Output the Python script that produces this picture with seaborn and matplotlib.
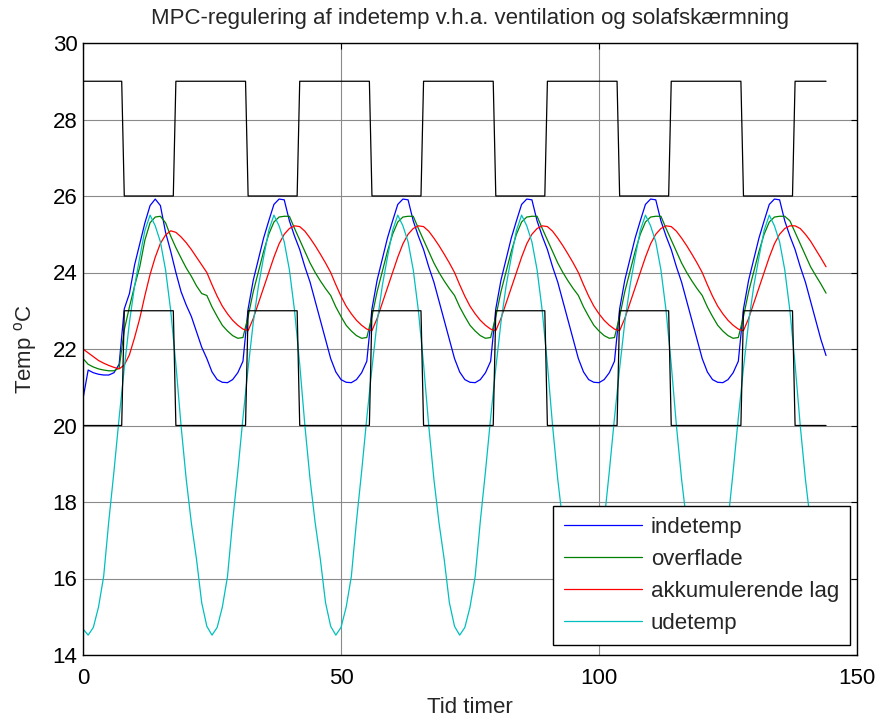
import matplotlib
matplotlib.use("Agg")
import matplotlib.pyplot as plt
import pandas as pd
import seaborn as sns

# Simulation time in hours (6 days, hourly samples)
timer = list(range(145))

# Indoor air temperature
indetemp = [
    20.70, 21.45, 21.38, 21.34, 21.32, 21.32, 21.38, 21.60, 23.05, 23.45, 24.20, 24.75,
    25.30, 25.75, 25.92, 25.75, 25.05, 24.55, 24.00, 23.50, 23.15, 22.85, 22.45, 22.05,
    21.75, 21.40, 21.20, 21.13, 21.12, 21.20, 21.38, 21.68, 23.05, 23.80, 24.35, 24.90,
    25.35, 25.78, 25.92, 25.90, 25.35, 24.95, 24.60, 24.15, 23.75, 23.25, 22.75, 22.25,
    21.75, 21.40, 21.20, 21.13, 21.12, 21.20, 21.38, 21.68, 23.05, 23.80, 24.35, 24.90,
    25.35, 25.78, 25.92, 25.90, 25.35, 24.95, 24.60, 24.15, 23.75, 23.25, 22.75, 22.25,
    21.75, 21.40, 21.20, 21.13, 21.12, 21.20, 21.38, 21.68, 23.05, 23.80, 24.35, 24.90,
    25.35, 25.78, 25.92, 25.90, 25.35, 24.95, 24.60, 24.15, 23.75, 23.25, 22.75, 22.25,
    21.75, 21.40, 21.20, 21.13, 21.12, 21.20, 21.38, 21.68, 23.05, 23.80, 24.35, 24.90,
    25.35, 25.78, 25.92, 25.90, 25.35, 24.95, 24.60, 24.15, 23.75, 23.25, 22.75, 22.25,
    21.75, 21.40, 21.20, 21.13, 21.12, 21.20, 21.38, 21.68, 23.05, 23.80, 24.35, 24.90,
    25.35, 25.78, 25.92, 25.90, 25.35, 24.95, 24.60, 24.15, 23.75, 23.25, 22.75, 22.25,
    21.83,
]

# Surface temperature
overflade = [
    21.75, 21.60, 21.53, 21.48, 21.45, 21.43, 21.43, 21.50, 22.50, 23.10, 23.65, 24.15,
    24.85, 25.30, 25.45, 25.47, 25.30, 24.95, 24.65, 24.38, 24.12, 23.90, 23.65, 23.45,
    23.40, 23.10, 22.85, 22.62, 22.47, 22.35, 22.28, 22.30, 22.85, 23.50, 24.02, 24.55,
    25.00, 25.32, 25.45, 25.47, 25.47, 25.15, 24.85, 24.55, 24.25, 24.00, 23.78, 23.58,
    23.40, 23.10, 22.85, 22.62, 22.47, 22.35, 22.28, 22.30, 22.85, 23.50, 24.02, 24.55,
    25.00, 25.32, 25.45, 25.47, 25.47, 25.15, 24.85, 24.55, 24.25, 24.00, 23.78, 23.58,
    23.40, 23.10, 22.85, 22.62, 22.47, 22.35, 22.28, 22.30, 22.85, 23.50, 24.02, 24.55,
    25.00, 25.32, 25.45, 25.47, 25.47, 25.15, 24.85, 24.55, 24.25, 24.00, 23.78, 23.58,
    23.40, 23.10, 22.85, 22.62, 22.47, 22.35, 22.28, 22.30, 22.85, 23.50, 24.02, 24.55,
    25.00, 25.32, 25.45, 25.47, 25.47, 25.15, 24.85, 24.55, 24.25, 24.00, 23.78, 23.58,
    23.40, 23.10, 22.85, 22.62, 22.47, 22.35, 22.28, 22.30, 22.85, 23.50, 24.02, 24.55,
    25.00, 25.32, 25.45, 25.47, 25.47, 25.35, 25.05, 24.75, 24.45, 24.15, 23.92, 23.70,
    23.46,
]

# Temperature of the heat-storing layer
akkumulerende = [
    22.00, 21.90, 21.80, 21.70, 21.63, 21.57, 21.52, 21.48, 21.58, 21.85, 22.30, 22.80,
    23.40, 23.95, 24.40, 24.76, 24.98, 25.09, 25.05, 24.93, 24.78, 24.60, 24.40, 24.20,
    24.00, 23.68, 23.38, 23.12, 22.92, 22.75, 22.62, 22.52, 22.48, 22.80, 23.20, 23.60,
    24.00, 24.40, 24.75, 25.00, 25.15, 25.22, 25.20, 25.08, 24.90, 24.70, 24.48, 24.25,
    24.00, 23.68, 23.38, 23.12, 22.92, 22.75, 22.62, 22.52, 22.48, 22.80, 23.20, 23.60,
    24.00, 24.40, 24.75, 25.00, 25.15, 25.22, 25.20, 25.08, 24.90, 24.70, 24.48, 24.25,
    24.00, 23.68, 23.38, 23.12, 22.92, 22.75, 22.62, 22.52, 22.48, 22.80, 23.20, 23.60,
    24.00, 24.40, 24.75, 25.00, 25.15, 25.22, 25.20, 25.08, 24.90, 24.70, 24.48, 24.25,
    24.00, 23.68, 23.38, 23.12, 22.92, 22.75, 22.62, 22.52, 22.48, 22.80, 23.20, 23.60,
    24.00, 24.40, 24.75, 25.00, 25.15, 25.22, 25.20, 25.08, 24.90, 24.70, 24.48, 24.25,
    24.00, 23.68, 23.38, 23.12, 22.92, 22.75, 22.62, 22.52, 22.48, 22.80, 23.20, 23.60,
    24.00, 24.40, 24.75, 25.00, 25.15, 25.22, 25.22, 25.15, 25.00, 24.82, 24.60, 24.38,
    24.15,
]

# Outdoor temperature
udetemp = [
    14.68, 14.52, 14.72, 15.25, 16.05, 17.50, 18.80, 20.20, 21.50, 22.70, 23.65, 24.40,
    25.10, 25.50, 25.22, 24.80, 24.07, 23.00, 21.60, 20.00, 18.60, 17.45, 16.50, 15.37,
    14.75, 14.52, 14.72, 15.25, 16.05, 17.50, 18.80, 20.20, 21.50, 22.70, 23.65, 24.40,
    25.10, 25.50, 25.22, 24.80, 24.07, 23.00, 21.60, 20.00, 18.60, 17.45, 16.50, 15.37,
    14.75, 14.52, 14.72, 15.25, 16.05, 17.50, 18.80, 20.20, 21.50, 22.70, 23.65, 24.40,
    25.10, 25.50, 25.22, 24.80, 24.07, 23.00, 21.60, 20.00, 18.60, 17.45, 16.50, 15.37,
    14.75, 14.52, 14.72, 15.25, 16.05, 17.50, 18.80, 20.20, 21.50, 22.70, 23.65, 24.40,
    25.10, 25.50, 25.22, 24.80, 24.07, 23.00, 21.60, 20.00, 18.60, 17.45, 16.50, 15.37,
    14.75, 14.52, 14.72, 15.25, 16.05, 17.50, 18.80, 20.20, 21.50, 22.70, 23.65, 24.40,
    25.10, 25.50, 25.22, 24.80, 24.07, 23.00, 21.60, 20.00, 18.60, 17.45, 16.50, 15.37,
    14.75, 14.52, 14.72, 15.25, 16.05, 17.50, 18.80, 20.20, 21.50, 22.70, 23.65, 24.40,
    25.10, 25.50, 25.22, 24.80, 24.07, 23.00, 21.60, 20.00, 18.60, 17.45, 16.50, 15.37,
    14.75,
]

# Comfort band: upper and lower limits (tighter during occupied hours 8-17)
graense_timer = [0, 7.5, 8, 17.5, 18, 31.5, 32, 41.5, 42, 55.5, 56, 65.5, 66,
                 79.5, 80, 89.5, 90, 103.5, 104, 113.5, 114, 127.5, 128, 137.5, 138, 144]
oevre_graense = [29, 29, 26, 26, 29, 29, 26, 26, 29, 29, 26, 26, 29,
                 29, 26, 26, 29, 29, 26, 26, 29, 29, 26, 26, 29, 29]
nedre_graense = [20, 20, 23, 23, 20, 20, 23, 23, 20, 20, 23, 23, 20,
                 20, 23, 23, 20, 20, 23, 23, 20, 20, 23, 23, 20, 20]

serie_navne = ["indetemp", "overflade", "akkumulerende lag", "udetemp"]
farver = ["#0000ff", "#008000", "#ff0000", "#00bfbf"]

df = pd.concat(
    [pd.DataFrame({"timer": timer, "temp": vals, "serie": navn})
     for navn, vals in zip(serie_navne, [indetemp, overflade, akkumulerende, udetemp])],
    ignore_index=True,
)

sns.set_style("white")
plt.rcParams["font.family"] = ["Liberation Sans", "DejaVu Sans"]
plt.rcParams["mathtext.fontset"] = "custom"
plt.rcParams["mathtext.rm"] = "Liberation Sans"

FS = 16

fig = plt.figure(figsize=(8.81, 7.22), dpi=100)
ax = fig.add_axes([83 / 881, 67 / 722, 774 / 881, 612 / 722])

sns.lineplot(data=df, x="timer", y="temp", hue="serie", hue_order=serie_navne,
             palette=dict(zip(serie_navne, farver)), estimator=None, sort=False,
             linewidth=0.9, ax=ax)
sns.lineplot(x=graense_timer, y=oevre_graense, color="black", linewidth=0.9,
             estimator=None, sort=False, ax=ax)
sns.lineplot(x=graense_timer, y=nedre_graense, color="black", linewidth=0.9,
             estimator=None, sort=False, ax=ax)

ax.set_xlim(0, 150)
ax.set_ylim(14, 30)
ax.set_xticks([0, 50, 100, 150])
ax.set_yticks(list(range(14, 31, 2)))
ax.grid(True, color="#8a8a8a", linewidth=0.8)
ax.set_axisbelow(True)
for sp in ax.spines.values():
    sp.set_color("black")
    sp.set_linewidth(1.0)
ax.tick_params(direction="in", top=True, right=True, length=4.5, width=0.8,
               labelsize=FS, colors="black")
ax.tick_params(axis="x", pad=9)
ax.tick_params(axis="y", pad=4)

ax.set_title("MPC-regulering af indetemp v.h.a. ventilation og solafskærmning",
             fontsize=FS, pad=14)
ax.set_xlabel("Tid timer", fontsize=FS, labelpad=6)
ax.set_ylabel("Temp $^{\\mathregular{o}}$C", fontsize=FS, labelpad=10)

handles, labels = ax.get_legend_handles_labels()
ax.legend(handles[:4], labels[:4], loc="lower right", bbox_to_anchor=(0.991, 0.016),
          frameon=True, fancybox=False, edgecolor="black", framealpha=1,
          fontsize=FS, handlelength=3.5, handletextpad=0.4, labelspacing=0.5,
          borderpad=0.5, borderaxespad=0)
ax.get_legend().get_frame().set_linewidth(1.0)

fig.savefig("out.png", dpi=100)
